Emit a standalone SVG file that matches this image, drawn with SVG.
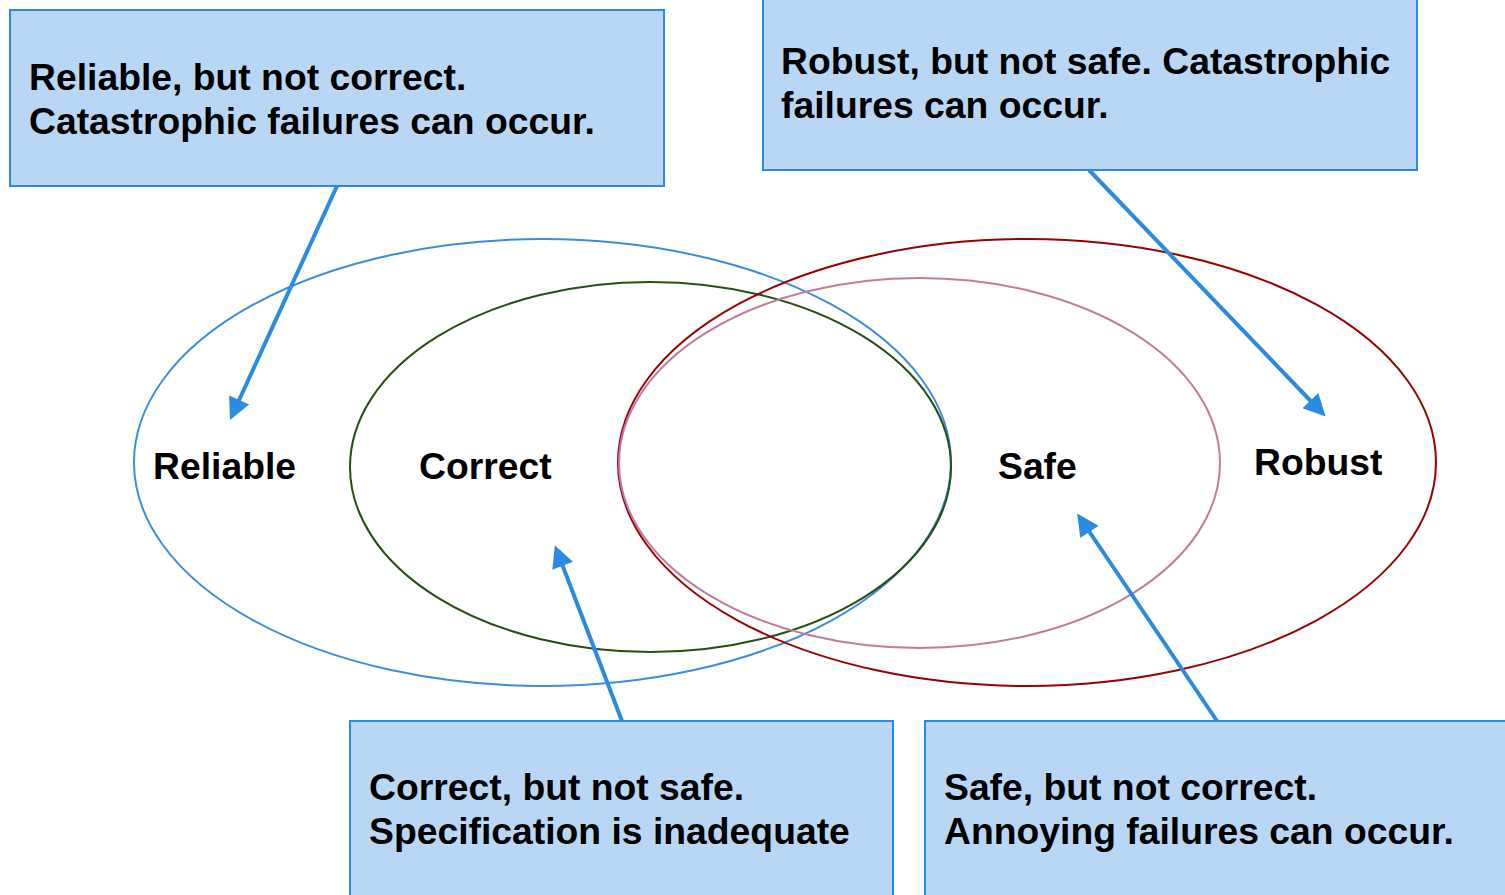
<svg xmlns="http://www.w3.org/2000/svg" width="1505" height="895" viewBox="0 0 1505 895">
<style>
.box{fill:#b9d7f5;stroke:#2b8be0;stroke-width:2}
.t{font-family:"Liberation Sans",Arial,sans-serif;font-weight:bold;font-size:37.3px;fill:#000}
.ell{fill:none;stroke-width:2}
.arr{stroke:#2a8be0;stroke-width:4;fill:none;marker-end:url(#ah)}
</style>
<defs>
<marker id="ah" viewBox="0 0 10 10" refX="4" refY="5" markerWidth="26" markerHeight="22" markerUnits="userSpaceOnUse" orient="auto">
<path d="M0,0 L10,5 L0,10 Z" fill="#2a8be0"/>
</marker>
</defs>
<rect width="1505" height="895" fill="#fff"/>
<g id="sets">
<g id="reliable"><ellipse class="ell" cx="542.5" cy="462.5" rx="408.5" ry="223.5" stroke="#3a8fdc"/><text class="t" x="153" y="479">Reliable</text></g>
<g id="correct"><ellipse class="ell" cx="650.5" cy="467" rx="300.5" ry="185" stroke="#274e13"/><text class="t" x="419" y="479">Correct</text></g>
<g id="robust"><ellipse class="ell" cx="1027" cy="462.5" rx="409" ry="223.5" stroke="#990000"/><text class="t" x="1254" y="475">Robust</text></g>
<g id="safe"><ellipse class="ell" cx="919.5" cy="463" rx="300.5" ry="185" stroke="#c27ba0"/><text class="t" x="998" y="479">Safe</text></g>
</g>
<g id="connectors">
<line class="arr" x1="337" y1="186" x2="235.5" y2="408"/>
<line class="arr" x1="1089" y1="170" x2="1316.5" y2="407"/>
<line class="arr" x1="622" y1="721" x2="559.5" y2="557.5"/>
<line class="arr" x1="1217" y1="721" x2="1084.5" y2="524.5"/>
</g>
<g id="note-reliable"><rect class="box" x="10" y="10" width="654" height="176"/>
<text class="t" x="29" y="90">Reliable, but not correct.</text>
<text class="t" x="29" y="134">Catastrophic failures can occur.</text></g>
<g id="note-robust"><rect class="box" x="763" y="-10" width="654" height="180"/>
<text class="t" x="781" y="74">Robust, but not safe. Catastrophic</text>
<text class="t" x="781" y="118">failures can occur.</text></g>
<g id="note-correct"><rect class="box" x="350" y="721" width="543" height="190"/>
<text class="t" x="369" y="800">Correct, but not safe.</text>
<text class="t" x="369" y="844">Specification is inadequate</text></g>
<g id="note-safe"><rect class="box" x="925" y="721" width="600" height="190"/>
<text class="t" x="944" y="800">Safe, but not correct.</text>
<text class="t" x="944" y="844">Annoying failures can occur.</text></g>
</svg>
